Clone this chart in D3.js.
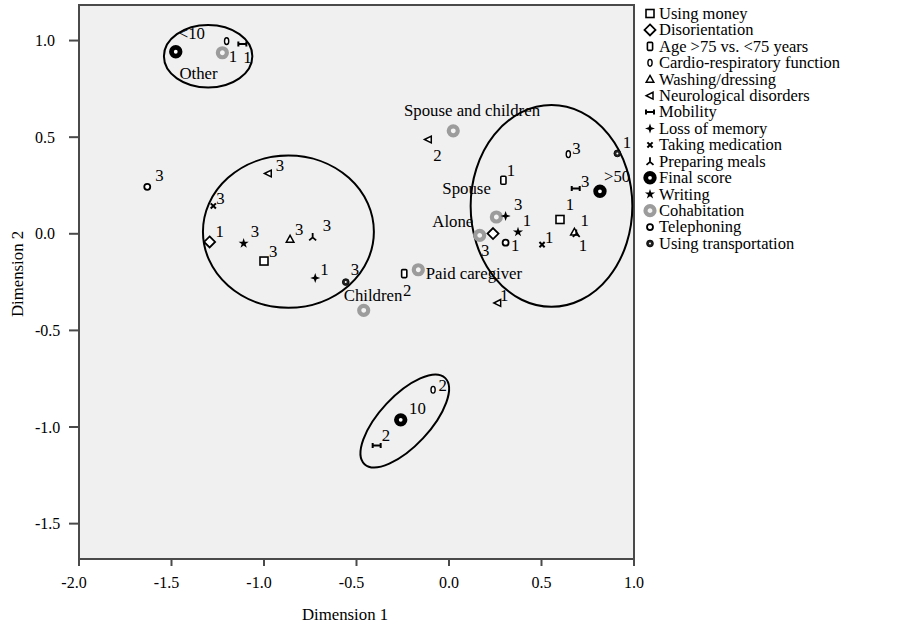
<!DOCTYPE html>
<html><head><meta charset="utf-8">
<script src="https://cdn.jsdelivr.net/npm/d3@7"></script>
<style>
body{margin:0;background:#fff;}
text{font-family:"Liberation Serif","Times New Roman",serif;fill:#000;}
</style>
</head><body><svg id="c" width="903" height="626"></svg>
<script>
// ---------------- DATA ----------------
const seriesNames = ["Using money","Disorientation","Age >75 vs. <75 years","Cardio-respiratory function","Washing/dressing","Neurological disorders","Mobility","Loss of memory","Taking medication","Preparing meals","Final score","Writing","Cohabitation","Telephoning","Using transportation"];

const pointSeries = [
  "Final score","Cohabitation","Cardio-respiratory function","Mobility",
  "Telephoning","Neurological disorders","Taking medication","Disorientation","Writing","Using money","Washing/dressing","Preparing meals","Loss of memory","Using transportation",
  "Cohabitation","Age >75 vs. <75 years","Cohabitation",
  "Cohabitation","Neurological disorders","Cardio-respiratory function","Using transportation","Age >75 vs. <75 years","Mobility","Final score","Cohabitation","Loss of memory","Cohabitation","Disorientation","Telephoning","Writing","Taking medication","Using money","Washing/dressing","Preparing meals","Neurological disorders",
  "Cardio-respiratory function","Final score","Mobility"
];
const pointX = [
  -1.477,-1.225,-1.202,-1.117,
  -1.631,-0.977,-1.274,-1.294,-1.110,-1.000,-0.859,-0.737,-0.723,-0.558,
  -0.461,-0.242,-0.166,
  0.023,-0.112,0.645,0.910,0.294,0.685,0.816,0.256,0.306,0.166,0.238,0.306,0.373,0.503,0.600,0.678,0.688,0.263,
  -0.086,-0.261,-0.391
];
const pointY = [
  0.942,0.937,0.997,0.982,
  0.243,0.312,0.144,-0.042,-0.050,-0.141,-0.028,-0.016,-0.229,-0.250,
  -0.396,-0.206,-0.186,
  0.533,0.488,0.412,0.416,0.277,0.234,0.220,0.087,0.092,-0.008,0.001,-0.046,0.009,-0.056,0.074,0.009,0.002,-0.358,
  -0.807,-0.963,-1.096
];
const pointLabels = [
  "<10","Other","1","1",
  "3","3","3","1","3","3","3","3","1","3",
  "Children","2","Paid caregiver",
  "Spouse and children","2","3","1","1","3",">50","Spouse","3","Alone","3","1","1","1","1","1","1","1",
  "2","10","2"
];
const xTicks = [-2.0,-1.5,-1.0,-0.5,0.0,0.5,1.0];
const yTicks = [1.0,0.5,0.0,-0.5,-1.0,-1.5];

// ---------------- LAYOUT (annotation placement) ----------------
// label offsets in px from point: [dx to text start, dy to glyph centre]
const labelOffsets = [
  [3,-18],[-43,21],[2,15],[1,13],
  [8,-11],[7.5,-8],[3,-7],[6,-10],[7,-11.6],[5,-10],[5,-10],[10,-11.7],[5,-8.4],[5,-12.4],
  [-20,-15],[-1.3,16.7],[7.4,3.7],
  [-49.3,-20.7],[5,15.7],[4,-5.7],[5.4,-10.6],[3.4,-9.3],[5.3,-6.6],[4,-14.3],[-54,-28.4],[8.3,-11.7],[-47.4,-14],[-12,17.4],[5.3,2.7],[4.7,-11.7],[3,-7.6],[5.7,-15.3],[6,-11.7],[2.4,12],[2.3,-7.3],
  [5.3,-4.3],[8.3,-11],[5,-10]
];
// ellipses: centre in data units, radii in axis units, rotation deg
const ellipses = [
  {cx:-1.302, cy:0.919, rx:0.239, ry:0.162, rot:0},
  {cx:-0.868, cy:0.011, rx:0.462, ry:0.394, rot:0},
  {cx:0.554, cy:0.144, rx:0.437, ry:0.522, rot:0},
  {cx:-0.239, cy:-0.969, rx:0.319, ry:0.130, rot:-47}
];

const L=79, R=634, T=5, B=559;
const svg = d3.select("#c");
const x = d3.scaleLinear().domain([-2,1]).range([L,R]);
const y = d3.scaleLinear().domain([-1.683,1.184]).range([B,T]);
const pxPerX = (R-L)/3, pxPerY = (B-T)/(1.184+1.683);
const fmt = v => d3.format(".1f")(v).replace("\u2212","-");

svg.append("rect").attr("x",L).attr("y",T).attr("width",R-L).attr("height",B-T)
  .attr("fill","#f0f0f0").attr("stroke","#4a4a4a").attr("stroke-width",2);

// ticks
const axisCol="#4a4a4a";
const yTickG = svg.append("g");
yTicks.forEach(v=>{
  yTickG.append("line").attr("x1",L-10).attr("x2",L).attr("y1",y(v)).attr("y2",y(v)).attr("stroke",axisCol).attr("stroke-width",2);
  yTickG.append("text").attr("x",35).attr("y",y(v)+5.5).attr("font-size",16).text(fmt(v));
});
const xTickG = svg.append("g");
xTicks.forEach(v=>{
  xTickG.append("line").attr("x1",x(v)).attr("x2",x(v)).attr("y1",B).attr("y2",B+7).attr("stroke",axisCol).attr("stroke-width",2);
  xTickG.append("text").attr("x",x(v)+(v<0?-5:0)).attr("y",588).attr("text-anchor","middle").attr("font-size",16).text(fmt(v));
});
svg.append("text").attr("x",345).attr("y",620).attr("text-anchor","middle").attr("font-size",16.8).text("Dimension 1");
svg.append("text").attr("transform","translate(23,274) rotate(-90)").attr("text-anchor","middle").attr("font-size",16.8).text("Dimension 2");

// ellipses
ellipses.forEach(e=>{
  svg.append("ellipse").attr("cx",0).attr("cy",0).attr("rx",e.rx*pxPerX).attr("ry",e.ry*pxPerY)
    .attr("transform",`translate(${x(e.cx)},${y(e.cy)}) rotate(${e.rot})`)
    .attr("fill","none").attr("stroke","#000").attr("stroke-width",2);
});

function drawMarker(g, s){
  const k="#000";
  switch(s){
    case "Using money": g.append("rect").attr("x",-4).attr("y",-4).attr("width",8).attr("height",8).attr("fill","#fff").attr("stroke",k).attr("stroke-width",1.6); break;
    case "Disorientation": g.append("path").attr("d","M0,-5.5L5.5,0L0,5.5L-5.5,0Z").attr("fill","#fff").attr("stroke",k).attr("stroke-width",1.8); break;
    case "Age >75 vs. <75 years": g.append("rect").attr("x",-2.6).attr("y",-4).attr("width",5.2).attr("height",8).attr("rx",1).attr("fill","#fff").attr("stroke",k).attr("stroke-width",1.6); break;
    case "Cardio-respiratory function": g.append("ellipse").attr("rx",2.1).attr("ry",3.4).attr("fill","#fff").attr("stroke",k).attr("stroke-width",1.4); break;
    case "Washing/dressing": g.append("path").attr("d","M0,-3.8L3.8,3L-3.8,3Z").attr("fill","#fff").attr("stroke",k).attr("stroke-width",1.5); break;
    case "Neurological disorders": g.append("path").attr("d","M-3.8,0L3,-3.4L3,3.4Z").attr("fill","#fff").attr("stroke",k).attr("stroke-width",1.5); break;
    case "Mobility": g.append("path").attr("d","M-4,-2.5V2.5M4,-2.5V2.5M-4,0H4").attr("fill","none").attr("stroke",k).attr("stroke-width",2); break;
    case "Loss of memory": g.append("path").attr("d","M0,-5L1.3,-1.3L5,0L1.3,1.3L0,5L-1.3,1.3L-5,0L-1.3,-1.3Z").attr("fill",k); break;
    case "Taking medication": g.append("path").attr("d","M-2.6,-2.6L2.6,2.6M-2.6,2.6L2.6,-2.6").attr("stroke",k).attr("stroke-width",2); break;
    case "Preparing meals": g.append("path").attr("d","M0,-4V0.5L-3.5,3.5M0,0.5L3.5,3.5").attr("fill","none").attr("stroke",k).attr("stroke-width",1.8); break;
    case "Final score": g.append("circle").attr("r",4.3).attr("fill","#fff").attr("stroke",k).attr("stroke-width",4.8); break;
    case "Writing": g.append("path").attr("d",d3.symbol(d3.symbolStar,32)()).attr("fill",k); break;
    case "Cohabitation": g.append("circle").attr("r",4.5).attr("fill","#f4f4f4").attr("stroke","#9c9c9c").attr("stroke-width",4.2); break;
    case "Telephoning": g.append("circle").attr("r",3).attr("fill","#fff").attr("stroke",k).attr("stroke-width",1.8); break;
    case "Using transportation": g.append("circle").attr("r",3.4).attr("fill","#222").attr("stroke",k).attr("stroke-width",0.8);
      g.append("circle").attr("r",1).attr("fill","#fff"); break;
  }
}

// points
const pts = pointX.map((v,i)=>({x:v,y:pointY[i],s:pointSeries[i],lab:pointLabels[i],off:labelOffsets[i]}));
const pg = svg.append("g");
pts.forEach(p=>{
  const g = pg.append("g").attr("transform",`translate(${x(p.x)},${y(p.y)})`);
  drawMarker(g,p.s);
});
const lg = svg.append("g");
pts.forEach(p=>{
  lg.append("text").attr("x",x(p.x)+p.off[0]).attr("y",y(p.y)+p.off[1]+5.5).attr("font-size",16.8).text(p.lab);
});

// legend
const leg = svg.append("g");
seriesNames.forEach((s,i)=>{
  const cy = 13.5 + i*16.43;
  const g = leg.append("g").attr("transform",`translate(650,${cy})`);
  drawMarker(g,s);
  leg.append("text").attr("x",659).attr("y",cy+5.3).attr("font-size",16.5).text(s);
});
</script>
</body></html>
